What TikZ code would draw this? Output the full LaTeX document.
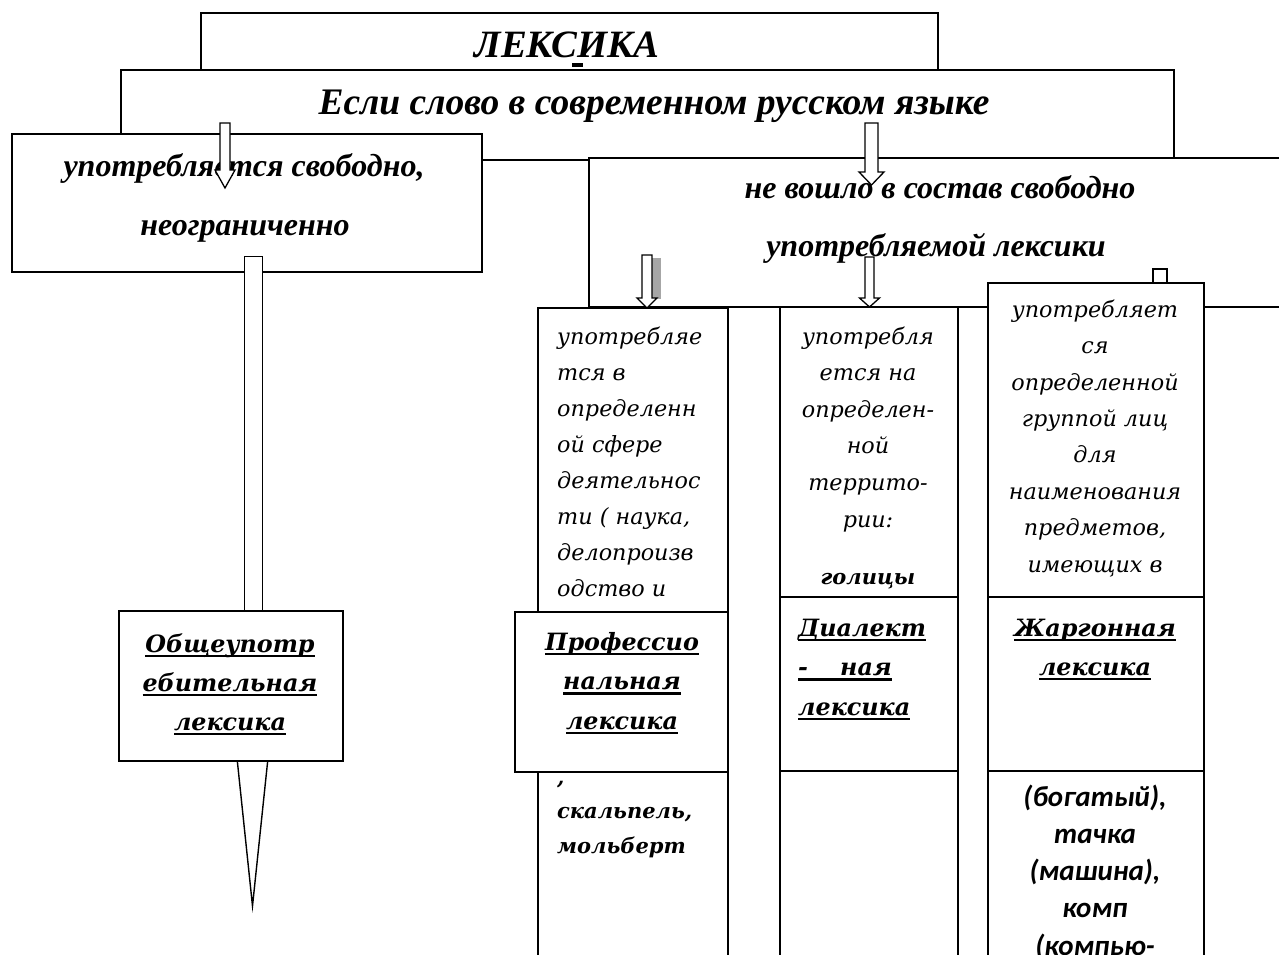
\documentclass[tikz,border=0pt]{standalone}
\usepackage{fontspec}
\setmainfont{Liberation Serif}
\newfontfamily\colfont{DejaVu Serif}
\newfontfamily\carlfont{Carlito}
\newcommand\thickul[1]{\setbox0\hbox{#1}\rlap{\rule[-5pt]{\wd0}{2.4pt}}\box0}
\tikzset{
  box/.style={draw, line width=1.8pt, fill=white, rectangle, inner sep=0pt, anchor=north west},
  barrow/.style={draw, line width=1.3pt, fill=white},
  divline/.style={line width=1.8pt},
  hdrbig/.style={font=\bfseries\itshape\fontsize{37.5}{42}\selectfont, anchor=base, inner sep=0pt},
  hdr/.style={font=\bfseries\itshape\fontsize{32}{36}\selectfont, anchor=base, inner sep=0pt},
  coltxt/.style={font=\colfont\itshape\fontsize{22.3}{36.4}\selectfont, align=center, anchor=base, inner sep=0pt},
  colbold/.style={font=\colfont\bfseries\itshape\fontsize{21}{34.5}\selectfont, align=left, anchor=base west, inner sep=0pt},
  lbl/.style={font=\colfont\bfseries\itshape\fontsize{23.8}{39.3}\selectfont, align=center, anchor=base, inner sep=0pt},
  carltxt/.style={font=\carlfont\bfseries\itshape\fontsize{29}{37.2}\selectfont, align=center, anchor=base, inner sep=0pt}
}
\begin{document}
\begin{tikzpicture}[x=1pt,y=-1pt]
\useasboundingbox (0,0) rectangle (1279,955);
\clip (0,0) rectangle (1279,955);
% header boxes
\node[box, minimum width=737, minimum height=120] (lex) at (200,12) {};
\node[hdrbig, font=\bfseries\itshape\fontsize{38.7}{42}\selectfont] (lextxt) at (567,58) {ЛЕКСИКА};
\fill (572,63.5) rectangle (583,67.5);
\node[box, minimum width=1053, minimum height=90] (cond) at (120,69) {};
\node[hdrbig] (condtxt) at (654,114) {Если слово в современном русском языке};
\node[box, minimum width=470, minimum height=138] (free) at (11,133) {};
\node[hdr] (freetxt) at (244,176) {употребляется свободно,};
\node[hdr] (freetxtb) at (245,235) {неограниченно};
\node[box, minimum width=760, minimum height=149] (notfree) at (588,157) {};
\node[hdr] (nftxt) at (940,198) {не вошло в состав свободно};
\node[hdr] (nftxtb) at (936,256) {употребляемой лексики};
% arrows from condition box
\draw[barrow] (220,123) -- (230,123) -- (230,170) -- (235,170) -- (225,188) -- (215,170) -- (220,170) -- cycle;
\draw[barrow] (865,123) -- (878,123) -- (878,172) -- (884,172) -- (871.5,185) -- (859,172) -- (865,172) -- cycle;
% left branch
\node[box, line width=1.3pt, minimum width=18, minimum height=360] (stem) at (244,256) {};
\draw[line width=1.4pt] (237,758) -- (252.5,906) -- (268,758);
\node[box, minimum width=224, minimum height=150] (common) at (118,610) {};
\node[lbl, font=\colfont\bfseries\itshape\fontsize{23.8}{39}\selectfont] (commontxt) at (230,730) {\thickul{Общеупотр}\\\thickul{ебительная}\\\thickul{лексика}};
% professional column
\node[box, minimum width=190, minimum height=700] (profcol) at (537,307) {};
\node[coltxt, align=left, anchor=base west, font=\colfont\itshape\fontsize{22.3}{36}\selectfont] (proftxt) at (557,596) {употребляе\\тся в\\определенн\\ой сфере\\деятельнос\\ти ( наука,\\делопроизв\\одство и};
% dialect column
\node[box, minimum width=178, minimum height=700] (dialcol) at (779,306) {};
\draw[divline] (779,597) -- (957,597);
\draw[divline] (779,771) -- (957,771);
\node[coltxt, font=\colfont\itshape\fontsize{22.3}{36.6}\selectfont] (dialtxt) at (868,527) {употребля\\ется на\\определен-\\ной\\террито-\\рии:};
\node[colbold, anchor=base] (dialex) at (868,584) {голицы};
\node[lbl, align=left, anchor=base west] (diallbl) at (798,715) {\thickul{Диалект}\\\thickul{-\quad\ ная}\\\thickul{лексика}};
% jargon column
\draw[line width=1.4pt, fill=white] (1153,269) rectangle (1167,284);
\node[box, minimum width=216, minimum height=700] (jargcol) at (987,282) {};
\draw[divline] (987,597) -- (1203,597);
\draw[divline] (987,771) -- (1203,771);
\node[coltxt] (jargtxt) at (1095,572) {употребляет\\ся\\определенной\\группой лиц\\для\\наименования\\предметов,\\имеющих в};
\node[lbl, font=\colfont\bfseries\itshape\fontsize{23.8}{39}\selectfont] (jarglbl) at (1095,675) {\thickul{Жаргонная}\\\thickul{лексика}};
\node[carltxt] (jargex) at (1095,955) {(богатый),\\тачка\\(машина),\\комп\\(компью-};
% arrows into columns
\fill[gray!70] (652,258) rectangle (661,299);
\draw[barrow] (642,255) -- (652,255) -- (652,298) -- (657,298) -- (647,308) -- (637,298) -- (642,298) -- cycle;
\draw[barrow] (865,257) -- (874,257) -- (874,298) -- (879.5,298) -- (869.5,307) -- (859.5,298) -- (865,298) -- cycle;
% professional label box
\node[box, minimum width=213, minimum height=160] (profbox) at (514,611) {};
\node[lbl] (proflbl) at (622,729) {\thickul{Профессио}\\\thickul{нальная}\\\thickul{лексика}};
\node[colbold] (profex) at (557,853) {,\\скальпель,\\мольберт};
\end{tikzpicture}
\end{document}
